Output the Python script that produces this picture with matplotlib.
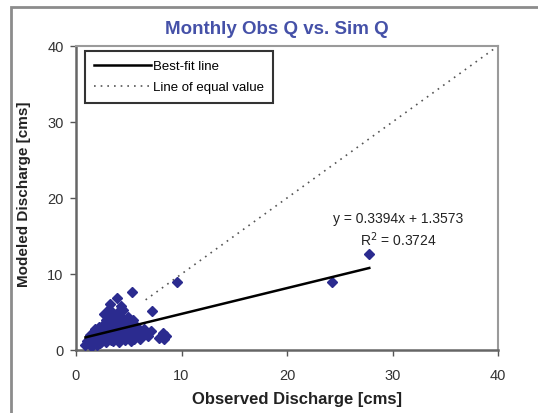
import matplotlib
matplotlib.use("Agg")
import matplotlib.pyplot as plt
from matplotlib.patches import Rectangle
from matplotlib.lines import Line2D
import numpy as np

plt.rcParams['font.family'] = ['Liberation Sans', 'DejaVu Sans']

# Monthly observed vs simulated discharge (cms)
observed = [0.9, 1.0, 1.1, 1.2, 1.3, 1.4, 1.5, 1.6, 1.7, 1.8, 1.9, 2.0, 2.1, 2.2,
            2.3, 2.4, 2.5, 2.6, 2.7, 2.8, 2.9, 3.0, 3.1, 3.2, 3.3, 3.4, 3.5, 3.6,
            3.7, 3.8, 3.9, 4.0, 4.1, 4.2, 4.3, 4.4, 4.5, 4.6, 4.7, 4.8, 4.9, 5.0,
            5.1, 5.2, 5.3, 5.4, 5.5, 5.6, 5.7, 5.8, 6.0, 6.2, 6.4, 6.6, 7.2, 7.9,
            8.2, 8.5, 8.3, 9.6, 24.3, 27.8,
            2.2, 2.8, 3.1, 3.4, 3.0, 3.6, 4.0, 2.6, 3.3, 3.8, 4.4, 5.0, 5.5, 1.3,
            1.8, 2.0, 1.5, 2.4, 3.5, 4.1, 4.6, 5.2, 6.1, 6.8, 7.1, 3.9, 4.8, 2.7,
            4.3, 3.2]
simulated = [0.6, 1.2, 0.9, 1.5, 0.7, 1.1, 1.8, 0.8, 1.3, 2.2, 1.0, 1.6, 2.6, 1.2,
             0.9, 2.0, 3.1, 1.4, 2.4, 1.1, 3.6, 1.8, 2.8, 4.2, 1.3, 2.2, 3.4, 4.8,
             1.6, 2.9, 6.8, 3.9, 2.0, 4.5, 1.4, 3.2, 5.3, 2.5, 3.8, 1.7, 4.4, 2.9,
             3.5, 2.1, 7.6, 4.0, 1.5, 2.6, 3.2, 2.0, 2.4, 1.8, 2.8, 2.2, 5.1, 1.6,
             2.2, 1.9, 1.4, 8.9, 8.9, 12.6,
             3.0, 3.9, 5.4, 4.6, 3.0, 3.7, 5.0, 2.2, 2.5, 2.0, 2.4, 1.8, 3.0, 2.0,
             2.8, 0.7, 0.5, 1.0, 1.2, 1.0, 1.3, 1.2, 1.5, 1.9, 2.5, 3.0, 2.8, 4.7,
             5.8, 6.0]

# Linear trend (as reported) and the 1:1 reference line
slope = 0.3394
intercept = 1.3573
r_squared = 0.3724
equal_start, equal_end = 6.6, 40.0

fig = plt.figure(figsize=(5.38, 4.14), dpi=100)
fig.patch.set_facecolor('white')

# chart-area border (runs off the right and bottom edges)
fig.patches.append(Rectangle((11 / 538, -0.2), 1.5, 1.2 - 8 / 414,
                             transform=fig.transFigure, fill=False,
                             edgecolor='#8c8c8c', linewidth=2.0))

ax = fig.add_axes([76 / 538, 1 - 351 / 414, (498 - 76) / 538, (351 - 47) / 414])

navy = '#2b2b8f'
ax.plot(observed, simulated, linestyle='none', marker='D', markersize=5,
        color=navy, markeredgecolor=navy, zorder=3)

xfit = np.array([min(observed), max(observed)])
ax.plot(xfit, slope * xfit + intercept, color='black', linewidth=1.8, zorder=4)

xeq = np.array([equal_start, equal_end])
ax.plot(xeq, xeq, color='#555555', linewidth=1.2, linestyle=(0, (1, 3)), zorder=2)

ax.set_xlim(0, 40)
ax.set_ylim(0, 40)
ax.set_xticks([0, 10, 20, 30, 40])
ax.set_yticks([0, 10, 20, 30, 40])
ax.tick_params(axis='both', direction='out', length=4, width=1, color='#555555',
               labelsize=10.5, labelcolor='#333333')
ax.tick_params(axis='x', pad=9)
ax.tick_params(axis='y', pad=5)
for side in ['top', 'right']:
    ax.spines[side].set_color('#9a9a9a')
    ax.spines[side].set_linewidth(1.5)
for side in ['left', 'bottom']:
    ax.spines[side].set_color('#666666')
    ax.spines[side].set_linewidth(1.8)

fig.text(277 / 538, 1 - 29 / 414, 'Monthly Obs Q vs. Sim Q', ha='center', va='center',
         fontsize=13.5, fontweight='bold', color='#4551a8')
fig.text(24 / 538, 1 - 194 / 414, 'Modeled Discharge [cms]', rotation=90,
         ha='center', va='center', fontsize=11, fontweight='bold', color='#222222')
fig.text(297 / 538, 1 - 400 / 414, 'Observed Discharge [cms]', ha='center', va='center',
         fontsize=12, fontweight='bold', color='#222222')

ax.text(30.5, 17.4, f'y = {slope}x + {intercept}', ha='center', va='center',
        fontsize=10, color='#222222')
ax.text(30.5, 14.6, f'R$^2$ = {r_squared}', ha='center', va='center',
        fontsize=10, color='#222222')

handles = [Line2D([], [], color='black', linewidth=1.8),
           Line2D([], [], color='#555555', linewidth=1.2, linestyle=(0, (1, 3)))]
leg = ax.legend(handles, ['Best-fit line', 'Line of equal value'],
                loc='upper left', bbox_to_anchor=(9 / 422, 1 - 5 / 304),
                fontsize=9.5, frameon=True, fancybox=False,
                edgecolor='black', handlelength=4.3, handletextpad=0.15,
                borderpad=0.7, labelspacing=0.65, borderaxespad=0)
leg.get_frame().set_linewidth(1.5)

fig.savefig('out.png', dpi=100)
